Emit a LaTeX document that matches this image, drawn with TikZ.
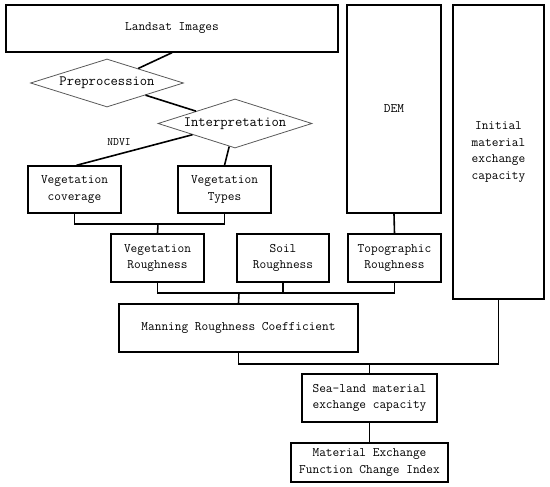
\documentclass[tikz,border=0pt]{standalone}
\usepackage{fontspec}
\usetikzlibrary{shapes.geometric}
\begin{document}
\begin{tikzpicture}[x=1pt,y=-1pt,
  box/.style={draw=black,line width=1.4pt,rectangle,inner sep=0pt,align=center,
    font=\ttfamily\fontsize{13}{16.5}\selectfont},
  dia/.style={draw=black!65,line width=0.8pt,diamond,inner sep=0pt,
    font=\ttfamily\fontsize{14.2}{16}\selectfont},
  conn/.style={draw=black,line width=1.6pt},
  lbl/.style={font=\ttfamily\fontsize{11.4}{13}\selectfont,inner sep=0pt}]
\useasboundingbox (0,0) rectangle (550,487);
\node[box,minimum width=332,minimum height=47] (land) at (172,28.5) {Landsat Images};
\node[dia,aspect=3.19,minimum width=153,minimum height=48] (pre) at (107,83) {Preprocession};
\node[dia,aspect=3.14,minimum width=154,minimum height=49] (interp) at (235,123.5) {Interpretation};
\node[box,minimum width=93,minimum height=47] (vcov) at (74.5,189.5) {Vegetation\\coverage};
\node[box,minimum width=93,minimum height=47] (vtyp) at (224.5,189.5) {Vegetation\\Types};
\node[box,minimum width=93,minimum height=48] (vrough) at (157.5,258) {Vegetation\\Roughness};
\node[box,minimum width=92,minimum height=48] (soil) at (283,258) {Soil\\Roughness};
\node[box,minimum width=93,minimum height=48] (topo) at (394.5,258) {Topographic\\Roughness};
\node[box,minimum width=94,minimum height=208] (dem) at (394,109) {DEM};
\node[box,minimum width=91,minimum height=294] (init) at (498.5,152) {Initial\\material\\exchange\\capacity};
\node[box,minimum width=239,minimum height=48] (man) at (238.5,328) {Manning Roughness Coefficient};
\node[box,minimum width=135,minimum height=48] (sea) at (369.5,398) {Sea-land material\\exchange capacity};
\node[box,minimum width=157,minimum height=39] (mef) at (369.5,462.5) {Material Exchange\\Function Change Index};
\node[lbl] (ndvi) at (119,142) {NDVI};
\draw[conn] (land.south) -- (pre);
\draw[conn] (pre) -- (interp);
\draw[conn] ([xshift=2pt]vcov.north) -- (interp);
\draw[conn] (vtyp.north) -- (interp);
\draw[conn] (vcov.south) |- (158,224) -| (vtyp.south);
\draw[conn] (158,224) -- (vrough.north);
\draw[conn] (vrough.south) |- (239,293) -| (topo.south);
\draw[conn] (soil.south) -- (soil.south |- 0,293);
\draw[conn] (239,293) -- (man.north);
\draw[conn] (dem.south) -- (topo.north);
\draw[conn] (man.south) |- (369.5,364) -| (init.south);
\draw[conn] (369.5,364) -- (sea.north);
\draw[conn] (sea.south) -- (mef.north);
\end{tikzpicture}
\end{document}
